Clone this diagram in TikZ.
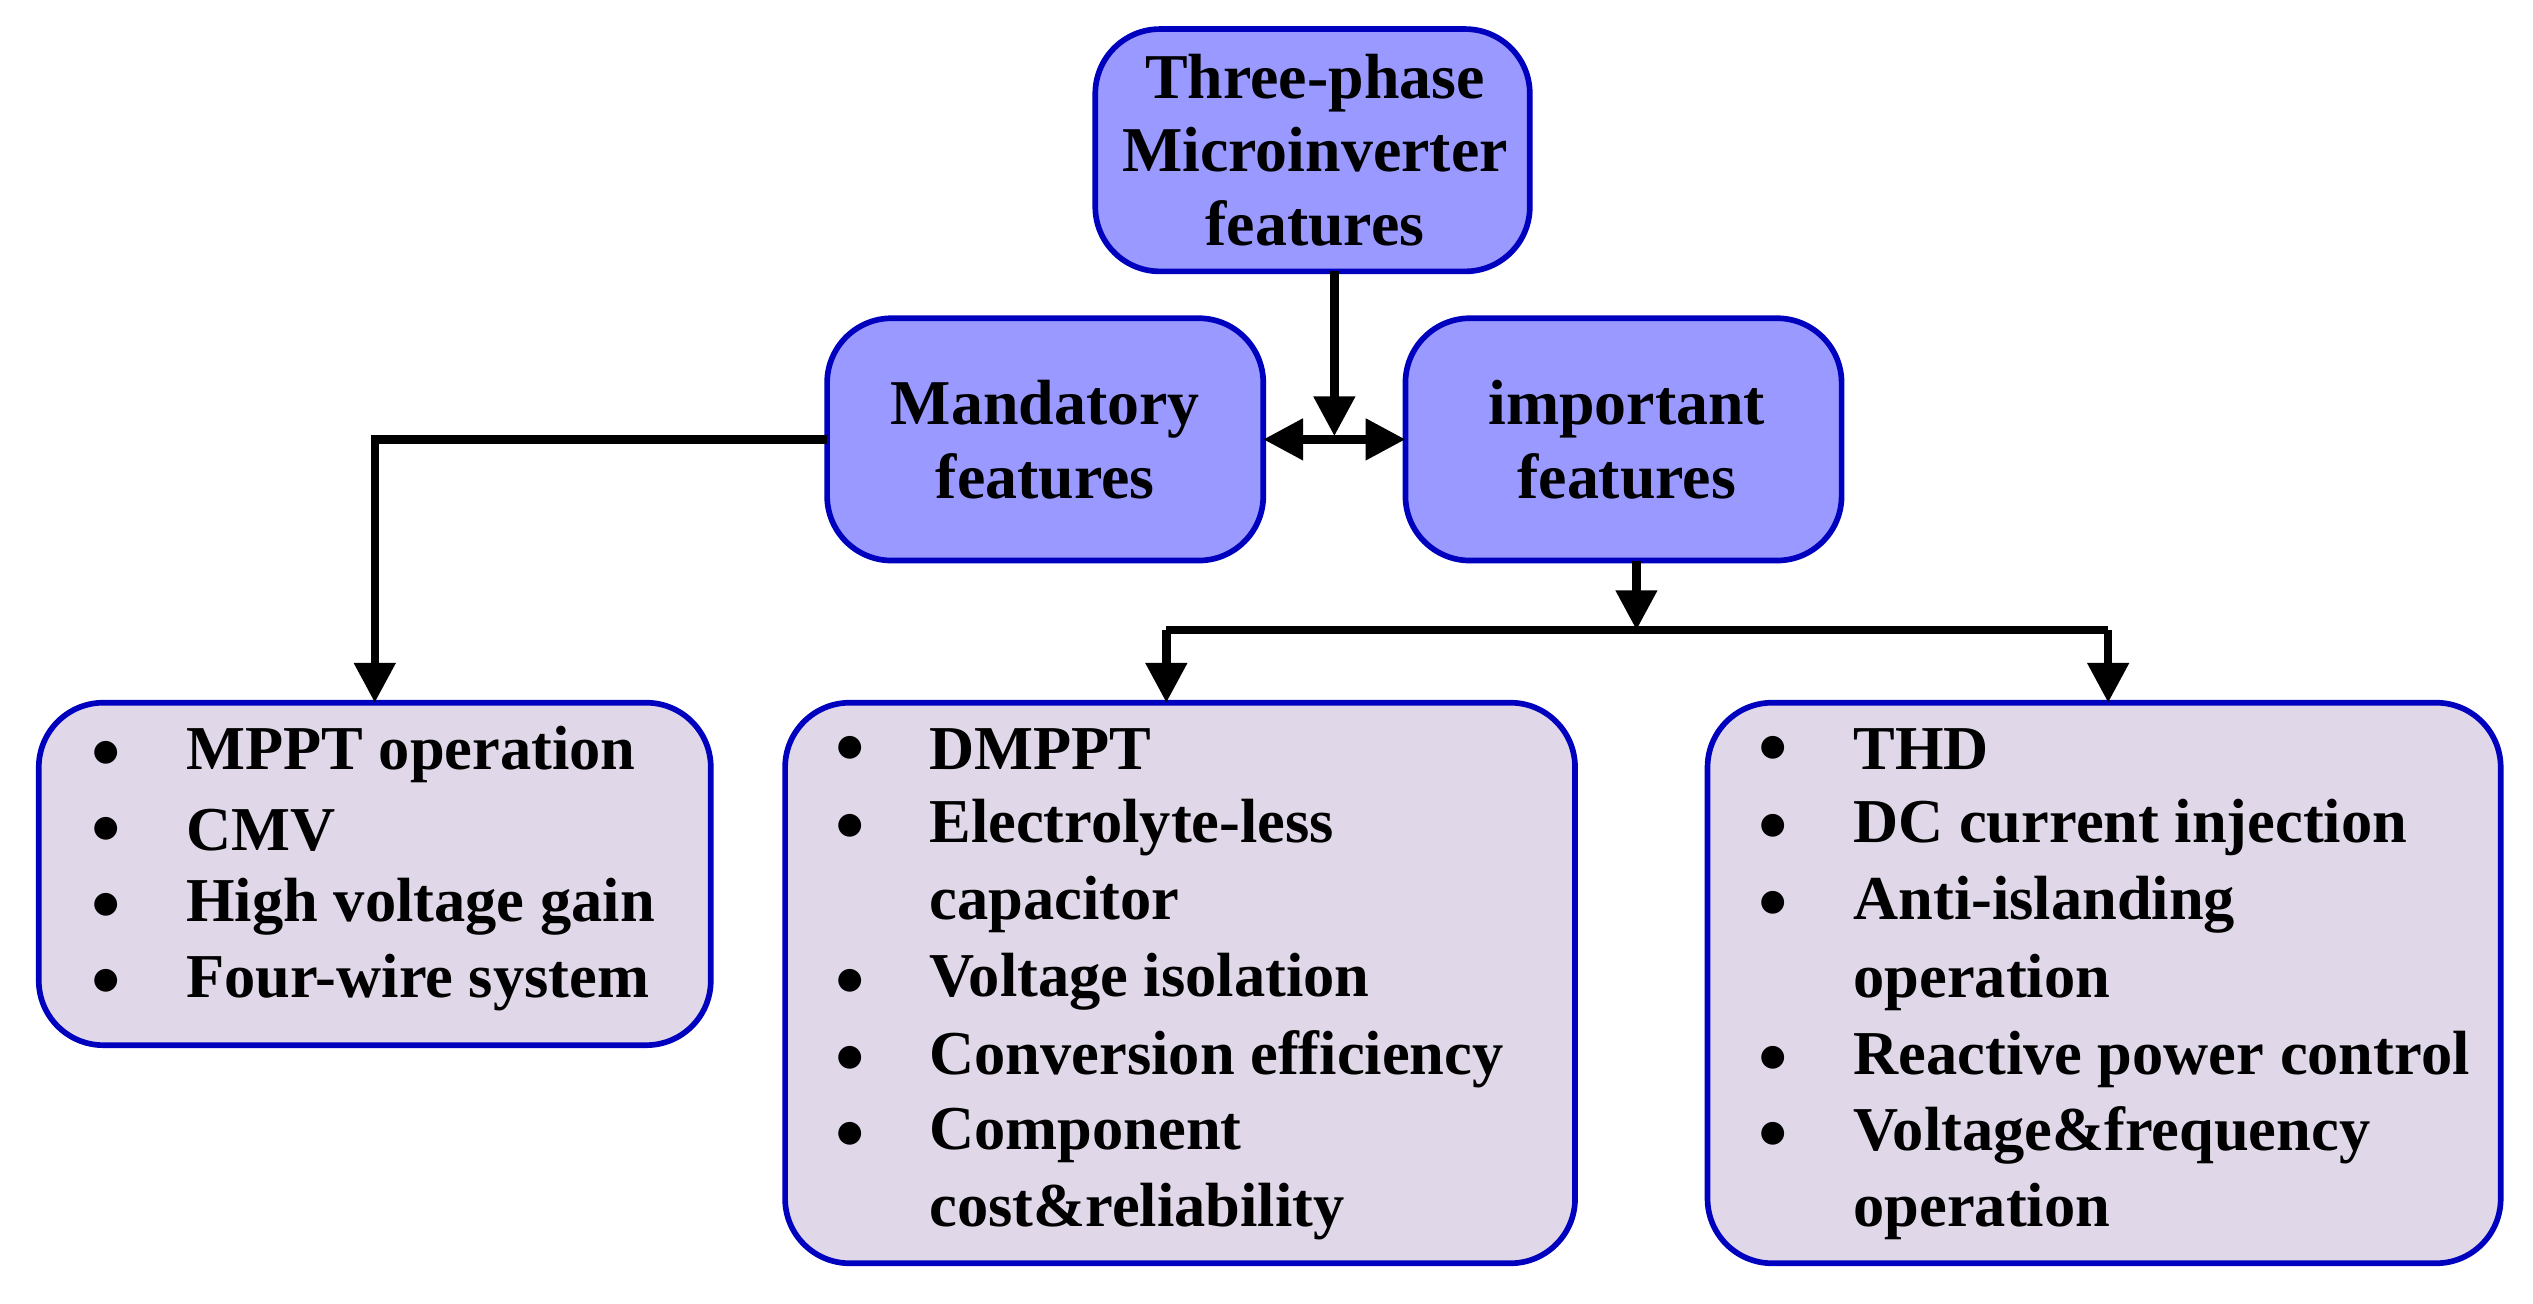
\documentclass[tikz,border=0pt]{standalone}
\usepackage{fontspec}
\setmainfont{Liberation Serif}
\usetikzlibrary{arrows.meta}
\begin{document}
\begin{tikzpicture}[x=0.02cm,y=-0.02cm,
 head/.style={draw=blue!75!black,line width=2pt,fill={rgb,255:red,153;green,153;blue,255},rounded corners=0.8cm},
 body/.style={draw=blue!75!black,line width=2pt,fill={rgb,255:red,224;green,216;blue,232},rounded corners=0.8cm},
 ttl/.style={font=\fontsize{22.5}{26}\selectfont\bfseries,align=center},
 itm/.style={font=\fontsize{22}{26}\selectfont\bfseries,anchor=west,inner sep=0},
 con/.style={line width=3pt},
 arr/.style={line width=3pt,-{Triangle[length=14pt,width=14pt]}}]
\useasboundingbox (0,0) rectangle (1568,807);
\draw[head] (678,18) rectangle (947,168);
\node[ttl] (top) at (814,93) {Three-phase\\Microinverter\\features};
\draw[head] (512,197) rectangle (782,347);
\node[ttl] (man) at (647,272) {Mandatory\\features};
\draw[head] (870,197) rectangle (1140,347);
\node[ttl] (imp) at (1007,272) {important\\features};
\draw[body] (24,435) rectangle (440,647);
\draw[body] (486,435) rectangle (975,782);
\draw[body] (1057,435) rectangle (1548,782);
\coordinate (t1) at (826,168); \coordinate (t2) at (826,270);
\draw[arr] (t1) -- (t2);
\coordinate (m1) at (782,272); \coordinate (i1) at (870,272);
\draw[line width=3pt,{Triangle[length=14pt,width=14pt]}-{Triangle[length=14pt,width=14pt]}] (m1) -- (i1);
\coordinate (ml) at (512,272); \coordinate (mc) at (232,272); \coordinate (mb) at (232,435);
\draw[arr] (ml) -- (mc) -- (mb);
\coordinate (ib) at (1013,347); \coordinate (ij) at (1013,390);
\draw[arr] (ib) -- (ij);
\coordinate (la) at (722,390); \coordinate (ra) at (1305,390);
\coordinate (lb) at (722,435); \coordinate (rb) at (1305,435);
\draw[con] (la) -- (ra);
\draw[arr] (la) -- (lb);
\draw[arr] (ra) -- (rb);
\foreach \y/\t [count=\i] in {467/MPPT operation,514/CMV,561/High voltage gain,608/Four-wire system}{
 \node[itm] (lbul\i) at (56,\y) {$\bullet$};
 \node[itm] (l\i) at (115,\y) {\t};}
\foreach \y [count=\i] in {464,512,608,656,703}{\node[itm] (mbul\i) at (517,\y) {$\bullet$};}
\foreach \y/\t [count=\i] in {464/DMPPT,512/Electrolyte-less,560/capacitor,608/Voltage isolation,656/Conversion efficiency,703/Component,750/cost\&reliability}{
 \node[itm] (m\i) at (575,\y) {\t};}
\foreach \y [count=\i] in {464,512,560,656,703}{\node[itm] (rbul\i) at (1088,\y) {$\bullet$};}
\foreach \y/\t [count=\i] in {464/THD,512/DC current injection,560/Anti-islanding,608/operation,656/Reactive power control,703/Voltage\&frequency,750/operation}{
 \node[itm] (r\i) at (1147,\y) {\t};}
\end{tikzpicture}
\end{document}
